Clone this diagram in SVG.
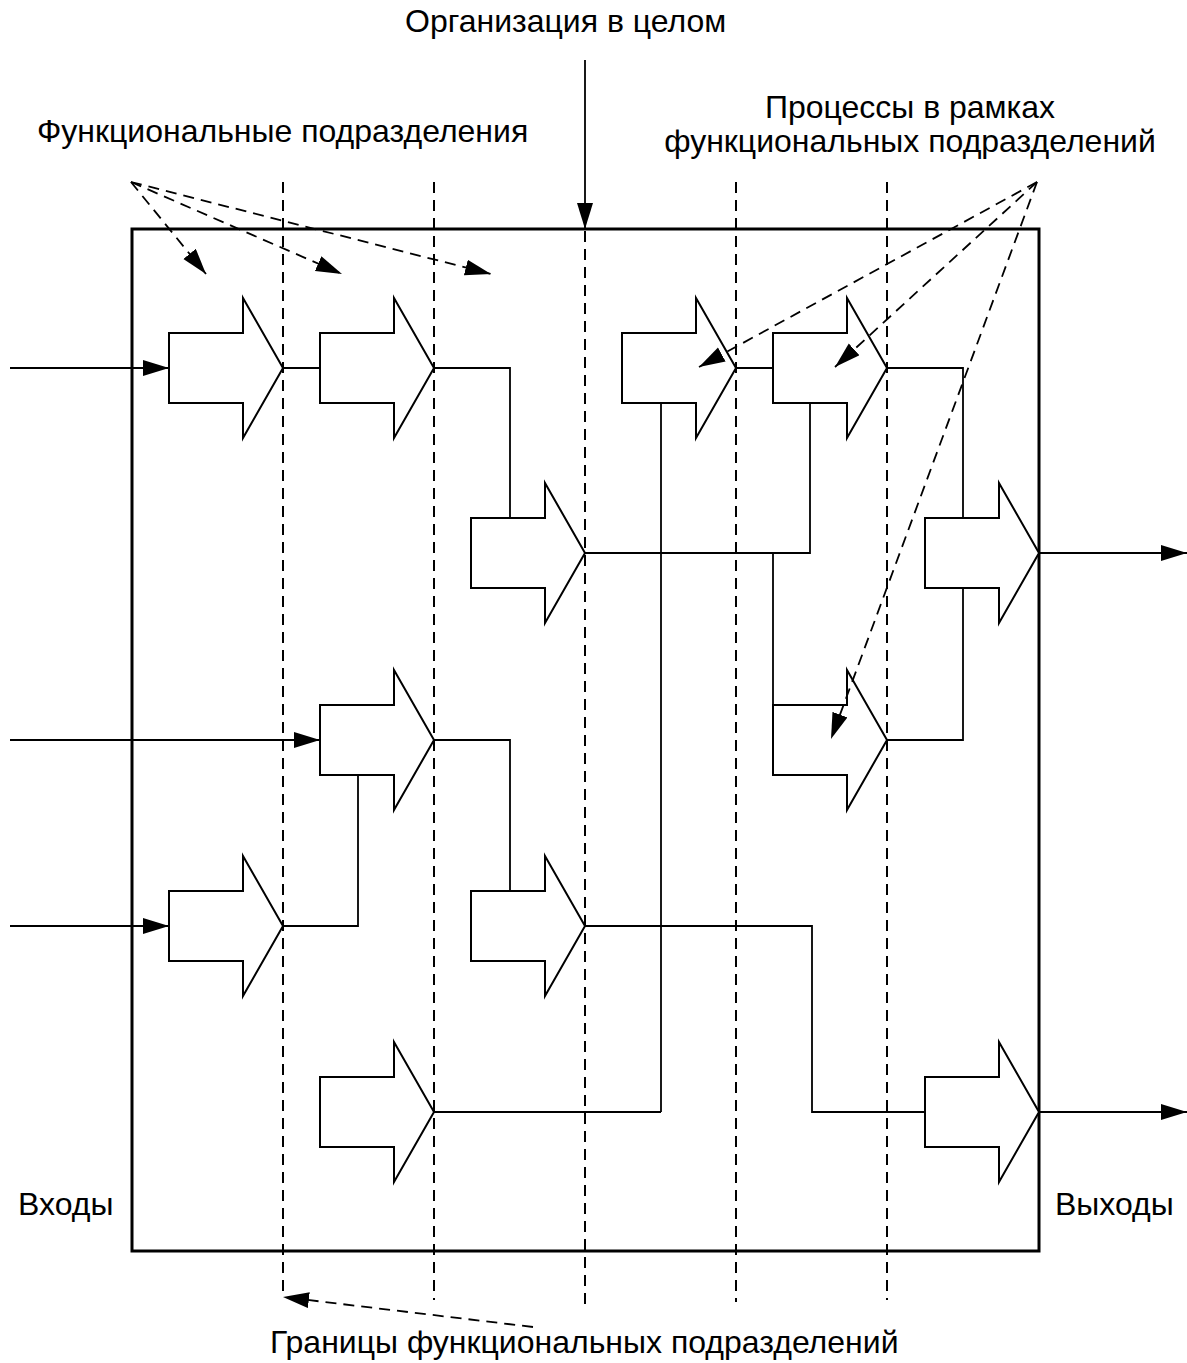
<svg xmlns="http://www.w3.org/2000/svg" width="1187" height="1363" viewBox="0 0 1187 1363">
  <style>
    .frame { fill: none; stroke: #000; stroke-width: 3; }
    .proc { fill: #fff; stroke: #000; stroke-width: 2; stroke-linejoin: miter; }
    .link { fill: none; stroke: #000; stroke-width: 1.8; }
    .bound { fill: none; stroke: #000; stroke-width: 2; stroke-dasharray: 11 7; }
    .hint { fill: none; stroke: #000; stroke-width: 1.8; stroke-dasharray: 11 7; }
    .lbl { font-family: "Liberation Sans", Arial, sans-serif; font-size: 32px; fill: #000; }
  </style>
  <defs>
    <marker id="head" markerUnits="userSpaceOnUse" markerWidth="27" markerHeight="17" refX="26" refY="8" orient="auto">
      <path d="M0,0 L26,8 L0,16 Z" fill="#000" stroke="none"/>
    </marker>
  </defs>

  <rect fill="#fff" x="0" y="0" width="1187" height="1363"/>

  <!-- organisation boundary -->
  <g id="organization">
    <rect class="frame" x="132" y="229" width="907" height="1022"/>
  </g>

  <!-- functional unit boundaries -->
  <g id="unit-boundaries">
    <line class="bound" x1="283" y1="182" x2="283" y2="1297"/>
    <line class="bound" x1="434" y1="182" x2="434" y2="1300"/>
    <line class="bound" x1="585" y1="231" x2="585" y2="1307"/>
    <line class="bound" x1="736" y1="182" x2="736" y2="1302"/>
    <line class="bound" x1="887" y1="182" x2="887" y2="1300"/>
  </g>

  <!-- process blocks: body 74x70, head 40 wide, tip at the listed point -->
  <g id="p1"><polygon class="proc" points="169,333 243,333 243,298 283,368 243,438 243,403 169,403"/></g>
  <g id="p2"><polygon class="proc" points="320,333 394,333 394,298 434,368 394,438 394,403 320,403"/></g>
  <g id="p3"><polygon class="proc" points="471,518 545,518 545,483 585,553 545,623 545,588 471,588"/></g>
  <g id="p4"><polygon class="proc" points="622,333 696,333 696,298 736,368 696,438 696,403 622,403"/></g>
  <g id="p5"><polygon class="proc" points="773,333 847,333 847,298 887,368 847,438 847,403 773,403"/></g>
  <g id="p6"><polygon class="proc" points="925,518 999,518 999,483 1039,553 999,623 999,588 925,588"/></g>
  <g id="p7"><polygon class="proc" points="773,705 847,705 847,670 887,740 847,810 847,775 773,775"/></g>
  <g id="p8"><polygon class="proc" points="320,705 394,705 394,670 434,740 394,810 394,775 320,775"/></g>
  <g id="p9"><polygon class="proc" points="169,891 243,891 243,856 283,926 243,996 243,961 169,961"/></g>
  <g id="p10"><polygon class="proc" points="471,891 545,891 545,856 585,926 545,996 545,961 471,961"/></g>
  <g id="p11"><polygon class="proc" points="320,1077 394,1077 394,1042 434,1112 394,1182 394,1147 320,1147"/></g>
  <g id="p12"><polygon class="proc" points="925,1077 999,1077 999,1042 1039,1112 999,1182 999,1147 925,1147"/></g>

  <!-- flows between processes -->
  <g id="connectors">
    <line class="link" x1="585" y1="60" x2="585" y2="229" marker-end="url(#head)"/>
    <line class="link" x1="10" y1="368" x2="169" y2="368" marker-end="url(#head)"/>
    <line class="link" x1="10" y1="740" x2="320" y2="740" marker-end="url(#head)"/>
    <line class="link" x1="10" y1="926" x2="169" y2="926" marker-end="url(#head)"/>
    <line class="link" x1="1039" y1="553" x2="1187" y2="553" marker-end="url(#head)"/>
    <line class="link" x1="1039" y1="1112" x2="1187" y2="1112" marker-end="url(#head)"/>

    <line class="link" x1="283" y1="368" x2="320" y2="368"/>
    <polyline class="link" points="434,368 510,368 510,518"/>
    <polyline class="link" points="585,553 810,553 810,403"/>
    <line class="link" x1="773" y1="553" x2="773" y2="705"/>
    <line class="link" x1="661" y1="403" x2="661" y2="1112"/>
    <line class="link" x1="736" y1="368" x2="773" y2="368"/>
    <polyline class="link" points="887,368 963,368 963,518"/>
    <polyline class="link" points="887,740 963,740 963,588"/>
    <polyline class="link" points="434,740 510,740 510,891"/>
    <polyline class="link" points="283,926 358,926 358,775"/>
    <polyline class="link" points="585,926 812,926 812,1112 925,1112"/>
    <line class="link" x1="434" y1="1112" x2="661" y2="1112"/>

    <!-- pointers from the captions -->
    <line class="hint" x1="131" y1="182" x2="206" y2="274" marker-end="url(#head)"/>
    <line class="hint" x1="131" y1="182" x2="342" y2="274" marker-end="url(#head)"/>
    <line class="hint" x1="131" y1="182" x2="491" y2="274" marker-end="url(#head)"/>
    <line class="hint" x1="1037" y1="182" x2="699" y2="367" marker-end="url(#head)"/>
    <line class="hint" x1="1037" y1="182" x2="835" y2="367" marker-end="url(#head)"/>
    <line class="hint" x1="1037" y1="182" x2="831" y2="739" marker-end="url(#head)"/>
    <line class="hint" x1="533" y1="1327" x2="283" y2="1297" marker-end="url(#head)"/>
  </g>

  <!-- captions -->
  <g id="captions">
    <text class="lbl" x="405" y="32">Организация в целом</text>
    <text class="lbl" x="37" y="142">Функциональные подразделения</text>
    <text class="lbl" x="910" y="118" text-anchor="middle">Процессы в рамках</text>
    <text class="lbl" x="910" y="152" text-anchor="middle">функциональных подразделений</text>
    <text class="lbl" x="270" y="1353">Границы функциональных подразделений</text>
    <text class="lbl" x="18" y="1215">Входы</text>
    <text class="lbl" x="1055" y="1215">Выходы</text>
  </g>
</svg>
